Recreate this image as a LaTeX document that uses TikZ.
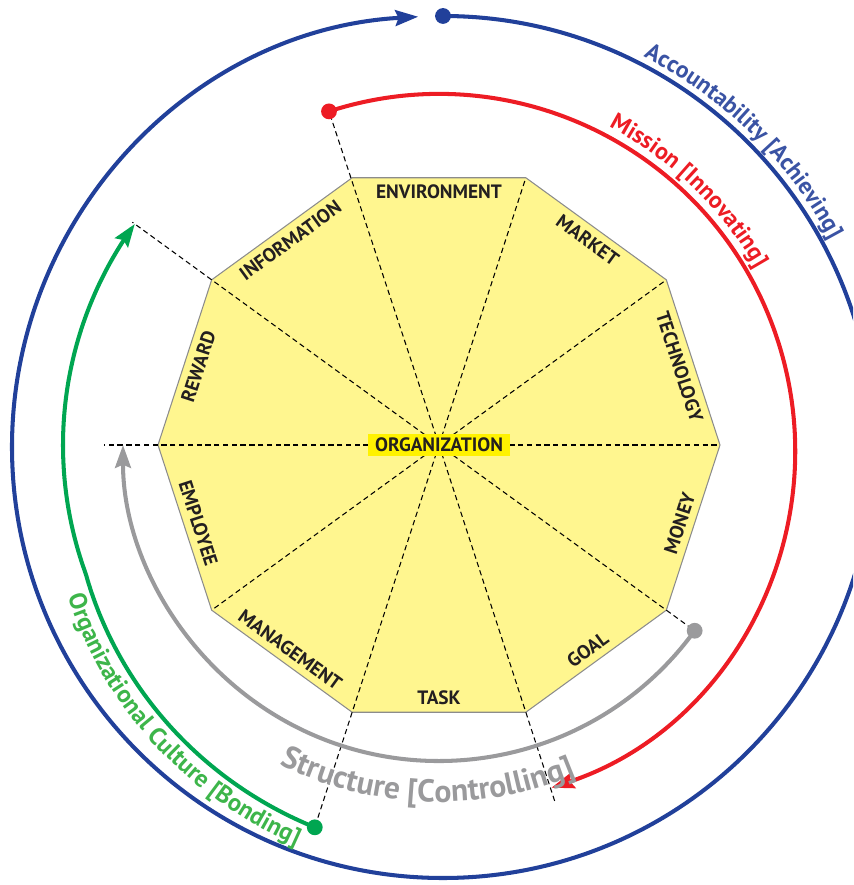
\documentclass[tikz,border=0pt]{standalone}
\usepackage{fontspec}
\setmainfont{PT Sans}
\usetikzlibrary{arrows.meta}
\usetikzlibrary{decorations.text}

\definecolor{accblue}{HTML}{21409A}
\definecolor{acctext}{HTML}{3A53A4}
\definecolor{misred}{HTML}{ED1C24}
\definecolor{culgreen}{HTML}{00A651}
\definecolor{cultext}{HTML}{3DB54A}
\definecolor{strgray}{HTML}{9A9A9C}
\definecolor{decfill}{HTML}{FFF68F}
\definecolor{orgmark}{HTML}{FFF200}
\definecolor{decline}{HTML}{8C8C8C}
\definecolor{ink}{HTML}{231F20}

\newcommand{\Rdec}{281}
\newcommand{\Ffacet}{\fontsize{11}{13}\selectfont\bfseries}
\newcommand{\Fring}{\fontsize{13.5}{16}\selectfont\bfseries}
\newcommand{\Fculture}{\fontsize{14}{16}\selectfont\bfseries}
\newcommand{\Fstruct}{\fontsize{18}{20}\selectfont\bfseries}

\begin{document}
\begin{tikzpicture}[x=0.02cm, y=0.02cm,
  facet/.style={text=ink, font=\Ffacet, inner sep=0pt},
  spoke/.style={dash pattern=on 3pt off 2pt, line width=0.6pt},
  ring/.style={line width=2.3pt, -{Stealth[length=13pt, width=9pt, inset=1.8pt]}},
  dot/.style={circle, inner sep=0pt, minimum size=9pt},
  declare function={cg(\t)=376+0.5*max(0,\t-200);}]
%\draw [help lines] (-439,-440) grid (414,445);
\useasboundingbox (-439,-440) rectangle (414,445);
\clip (-439,-440) rectangle (414,445);

% Decagon
\filldraw[fill=decfill, draw=decline, line width=0.6pt]
  (0:\Rdec) coordinate (v0) -- (36:\Rdec) coordinate (v1) -- (72:\Rdec) coordinate (v2)
  -- (108:\Rdec) coordinate (v3) -- (144:\Rdec) coordinate (v4) -- (180:\Rdec) coordinate (v5)
  -- (216:\Rdec) coordinate (v6) -- (252:\Rdec) coordinate (v7) -- (288:\Rdec) coordinate (v8)
  -- (324:\Rdec) coordinate (v9) -- cycle;

\coordinate (ctr)  at (0,0);
\coordinate (mpos) at (-110,333.6);
\coordinate (gpos) at (252:402);
\coordinate (spos) at (324:316);
\coordinate (apos) at (4,429);
\coordinate (ctip) at (144:379);
\coordinate (stip) at (180:335);
\coordinate (mtip) at (288:376);

% Spokes
\draw[spoke] (ctr) -- (v0);
\draw[spoke] (ctr) -- (v1);
\draw[spoke] (ctr) -- (v2);
\draw[spoke] (ctr) -- (mpos);
\draw[spoke] (ctr) -- (ctip);
\draw[spoke] (ctr) -- (stip);
\draw[spoke] (ctr) -- (v6);
\draw[spoke] (ctr) -- (gpos);
\draw[spoke] (ctr) -- (mtip);
\draw[spoke] (ctr) -- (spos);

% Facets
\node[facet]             (env)  at (90:253)   {ENVIRONMENT};
\node[facet, rotate=-36] (mkt)  at (54:253)   {MARKET};
\node[facet, rotate=-72] (tech) at (18:253)   {TECHNOLOGY};
\node[facet, rotate=72]  (mon)  at (-18:253)  {MONEY};
\node[facet, rotate=36]  (goal) at (-54:253)  {GOAL};
\node[facet]             (task) at (-90:253)  {TASK};
\node[facet, rotate=-36] (mgt)  at (-126:253) {MANAGEMENT};
\node[facet, rotate=-72] (emp)  at (-162:253) {EMPLOYEE};
\node[facet, rotate=72]  (rew)  at (162:253)  {REWARD};
\node[facet, rotate=36]  (info) at (126:253)  {INFORMATION};

\node[fill=orgmark, text=ink, font=\Ffacet, inner xsep=4pt, inner ysep=0pt, minimum height=13pt] (org) at (ctr) {ORGANIZATION};

% Rings
\draw[ring, accblue]  (apos) arc[start angle=90, end angle=-266.7, radius=431];
\draw[ring, misred]   (mpos) arc[start angle=108, end angle=-71.6, radius=356];
\draw[ring, strgray]  (spos) arc[start angle=-36, end angle=-180, radius=316];
\draw[ring, culgreen] plot[domain=252:144, samples=80, smooth] ({\x}:{cg(\x)});

\node[dot, fill=accblue]  (adot) at (apos) {};
\node[dot, fill=misred]   (mdot) at (mpos) {};
\node[dot, fill=strgray]  (sdot) at (spos) {};
\node[dot, fill=culgreen] (gdot) at (gpos) {};

% Ring labels
\path[shift={(4,-2)}, decorate, decoration={text along path, text align=center,
  text={|\Fring\color{acctext}|Accountability {[}Achieving{]}}}]
  (72:439) arc[start angle=72, end angle=19, radius=439];
\path[shift={(0,-5)}, decorate, decoration={text along path, text align=center,
  text={|\Fring\color{misred}|Mission {[}Innovating{]}}}]
  (70:365) arc[start angle=70, end angle=22, radius=365];
\path[decorate, decoration={text along path, text align=center,
  text={|\Fstruct\color{strgray}|Structure {[}Controlling{]}}}]
  (228:357) arc[start angle=228, end angle=308, radius=357];
\path[decorate, decoration={text along path, text align=center,
  text={|\Fculture\color{cultext}|Organizational Culture {[}Bonding{]}}}]
  plot[domain=193:259, samples=60] ({\x}:{cg(\x)+24});
\end{tikzpicture}
\end{document}
